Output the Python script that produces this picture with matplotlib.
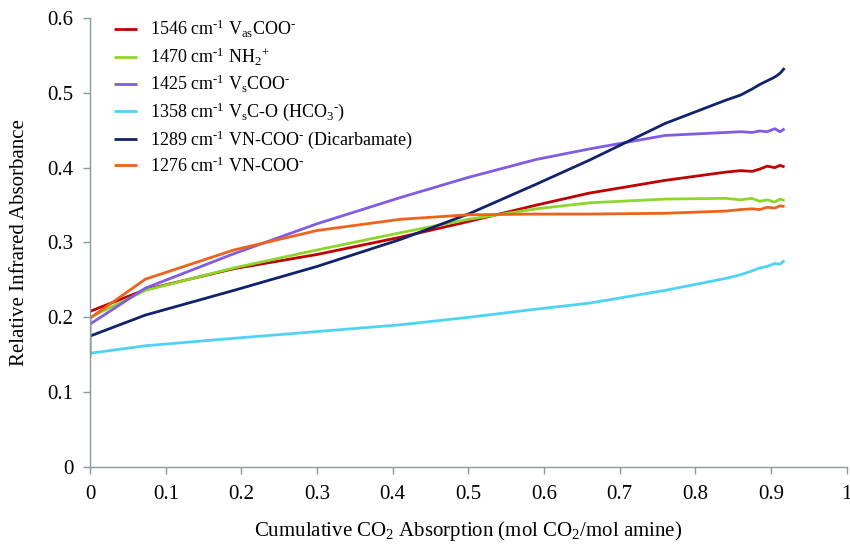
import matplotlib
matplotlib.use("Agg")
import matplotlib.pyplot as plt

plt.rcParams["font.family"] = ["Liberation Serif", "DejaVu Serif"]
plt.rcParams["mathtext.fontset"] = "custom"
plt.rcParams["mathtext.rm"] = "Liberation Serif"
plt.rcParams["mathtext.it"] = "Liberation Serif:italic"
plt.rcParams["mathtext.default"] = "rm"

# CO2 loading (mol CO2 / mol amine)
loading = [0, 0.073, 0.19, 0.30, 0.41, 0.50, 0.59, 0.66, 0.76, 0.84,
           0.86, 0.875, 0.885, 0.895, 0.905, 0.912, 0.918]
loading_1276 = [0] + loading

abs_1546 = [0.208, 0.237, 0.265, 0.284, 0.307, 0.328, 0.350, 0.366, 0.383, 0.394,
            0.396, 0.395, 0.398, 0.402, 0.400, 0.403, 0.401]
abs_1470 = [0.200, 0.236, 0.266, 0.290, 0.313, 0.331, 0.345, 0.353, 0.358, 0.359,
            0.357, 0.359, 0.355, 0.357, 0.354, 0.358, 0.356]
abs_1425 = [0.191, 0.239, 0.285, 0.325, 0.360, 0.387, 0.411, 0.425, 0.443, 0.447,
            0.448, 0.447, 0.449, 0.448, 0.452, 0.448, 0.452]
abs_1358 = [0.152, 0.162, 0.172, 0.181, 0.190, 0.200, 0.211, 0.219, 0.236, 0.252,
            0.257, 0.262, 0.266, 0.268, 0.272, 0.271, 0.276]
abs_1289 = [0.175, 0.203, 0.236, 0.268, 0.304, 0.338, 0.378, 0.410, 0.459, 0.490,
            0.497, 0.505, 0.511, 0.516, 0.521, 0.526, 0.533]
abs_1276 = [0.146, 0.199, 0.251, 0.290, 0.316, 0.331, 0.337, 0.338, 0.338, 0.339,
            0.342, 0.344, 0.345, 0.344, 0.347, 0.346, 0.349, 0.348]

neg = r"$^{\text{-}}$"
series = [
    (loading, abs_1546, "#c00000", r"1546 cm$^{\text{-}1}$ V$_{as}$COO" + neg),
    (loading, abs_1470, "#8fd62a", r"1470 cm$^{\text{-}1}$ NH$_{2}$$^{+}$"),
    (loading, abs_1425, "#7f5be6", r"1425 cm$^{\text{-}1}$ V$_{s}$COO" + neg),
    (loading, abs_1358, "#4fd3f5", r"1358 cm$^{\text{-}1}$ V$_{s}$C-O (HCO$_{3}$" + neg + ")"),
    (loading, abs_1289, "#10226e", r"1289 cm$^{\text{-}1}$ VN-COO" + neg + " (Dicarbamate)"),
    (loading_1276, abs_1276, "#f0621c", r"1276 cm$^{\text{-}1}$ VN-COO" + neg),
]

fig = plt.figure(figsize=(8.5, 5.44), dpi=100)
ax = fig.add_axes([0.106, 0.1415, 0.89, 0.8255])

for x, y, c, lab in series:
    ax.plot(x, y, color=c, lw=2.0, label=lab, solid_capstyle="butt")

ax.set_xlim(0, 1)
ax.set_ylim(0, 0.6)
xt = [0, 0.1, 0.2, 0.3, 0.4, 0.5, 0.6, 0.7, 0.8, 0.9, 1]
yt = [0, 0.1, 0.2, 0.3, 0.4, 0.5, 0.6]
ax.set_xticks(xt, ["0" if v == 0 else ("1" if v == 1 else f"{v:.1f}") for v in xt])
ax.set_yticks(yt, ["0" if v == 0 else f"{v:.1f}" for v in yt])

spine_c = "#8a9a9a"
for s in ("top", "right"):
    ax.spines[s].set_visible(False)
for s in ("left", "bottom"):
    ax.spines[s].set_color(spine_c)
    ax.spines[s].set_linewidth(1.0)
ax.tick_params(direction="out", length=5, width=1.0, color=spine_c, labelsize=15)
ax.tick_params(axis="y", pad=7)
ax.tick_params(axis="x", pad=8)

ax.set_xlabel(r"Cumulative CO$_{2}$ Absorption (mol CO$_{2}$/mol amine)", fontsize=15)
ax.set_ylabel("Relative Infrared Absorbance", fontsize=15)
ax.xaxis.set_label_coords(0.5, -0.115)
ax.yaxis.set_label_coords(-0.081, 0.5)

ax.legend(loc="upper left", bbox_to_anchor=(0.032, 1.0), frameon=False,
          fontsize=13, handlelength=1.25, handletextpad=0.7,
          labelspacing=0.3, borderpad=0, borderaxespad=0)

fig.savefig("out.png", dpi=100)
